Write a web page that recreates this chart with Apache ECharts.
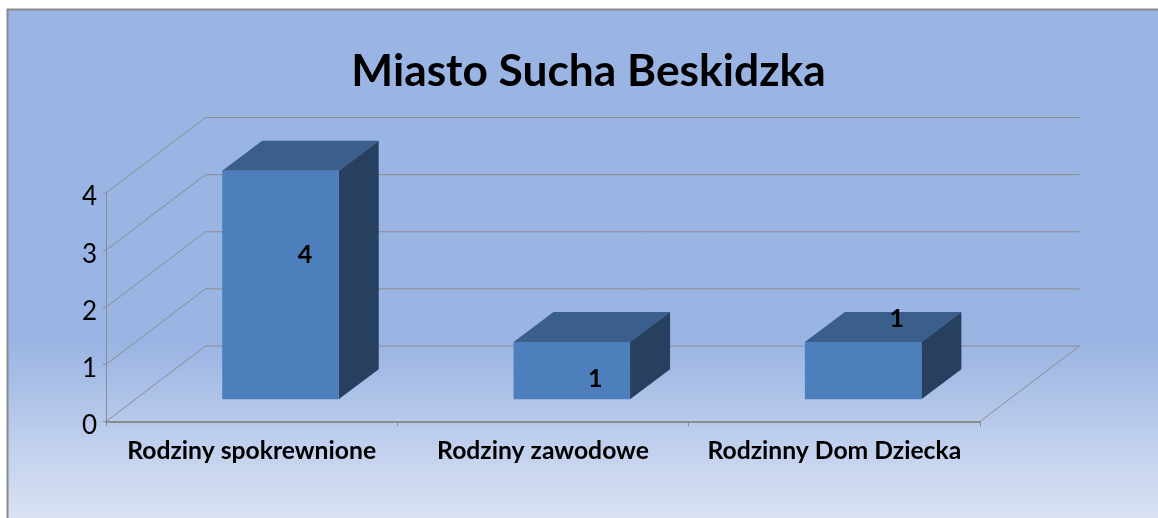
<!DOCTYPE html>
<html><head><meta charset="utf-8">
<style>html,body{margin:0;padding:0;background:#fff}#c{width:1158px;height:518px}</style>
<script src="https://cdn.jsdelivr.net/npm/echarts@6/dist/echarts.min.js"></script>
</head><body><div id="c"></div>
<script>
const titleText = 'Miasto Sucha Beskidzka';
const categories = ['Rodziny spokrewnione', 'Rodziny zawodowe', 'Rodzinny Dom Dziecka'];
const values = [4, 1, 1];
const yTicks = [0, 1, 2, 3, 4];

// styling constants
const DEPTH = [99.5, -75.5];         // floor depth
const BAR_SHIFT = [28.8, -22.3];     // bar offset into the floor
const BAR_DEPTH = [40, -30];         // bar's own depth
const BAR_W = 116.5;
const LABEL_NUDGE = [[24.5, -30], [23.5, 8], [33.5, -52]];
const FONT = 'Lato, "Noto Sans", sans-serif';
const GRID_C = '#8c8c8c';

const chart = echarts.init(document.getElementById('c'), null, {renderer: 'canvas'});
chart.setOption({
  animation: false,
  backgroundColor: '#fff',
  graphic: [{
    type: 'rect', z: -10, silent: true,
    shape: {x: 7.5, y: 9.5, width: 1160, height: 520},
    style: {
      stroke: '#8a8a8a', lineWidth: 2,
      fill: new echarts.graphic.LinearGradient(0, 0, 0, 1, [
        {offset: 0, color: '#9ab4e3'},
        {offset: 0.64, color: '#9ab4e3'},
        {offset: 1, color: '#dfe6f5'}
      ])
    }
  }],
  title: {
    text: titleText, left: 583.5, top: 45,
    textAlign: 'center',
    textStyle: {fontFamily: FONT, fontWeight: 'bold', fontSize: 44.3, color: '#000'}
  },
  grid: {left: 106, right: 178, top: 193, bottom: 96.5},
  xAxis: {
    type: 'category', data: categories, boundaryGap: true,
    axisLine: {show: true, lineStyle: {color: GRID_C, width: 2}},
    axisTick: {show: true, alignWithLabel: false, length: 5, lineStyle: {color: GRID_C, width: 1}},
    axisLabel: {fontFamily: FONT, fontWeight: 'bold', fontSize: 24.7, color: '#000', margin: 17, interval: 0}
  },
  yAxis: {
    type: 'value', min: 0, max: 4, interval: 1,
    axisLine: {show: true, lineStyle: {color: GRID_C, width: 1}},
    axisTick: {show: true, length: 3, lineStyle: {color: GRID_C, width: 1}},
    splitLine: {show: false},
    axisLabel: {fontFamily: FONT, fontSize: 26, color: '#000', margin: 9, verticalAlign: 'top', lineHeight: 8}
  },
  series: [
    {
      type: 'custom', coordinateSystem: 'cartesian2d', z: 1, silent: true,
      data: yTicks.map(v => [0, v]),
      renderItem(params, api) {
        const cs = params.coordSys;
        const y = api.coord([0, api.value(1)])[1];
        const x0 = cs.x, x1 = cs.x + cs.width;
        const points = [[x0, y], [x0 + DEPTH[0], y + DEPTH[1]], [x1 + DEPTH[0], y + DEPTH[1]]];
        if (api.value(1) === 0) points.push([x1, y]);
        return {type: 'polyline', shape: {points}, style: {stroke: GRID_C, lineWidth: 1, fill: 'none'}};
      }
    },
    {
      type: 'custom', coordinateSystem: 'cartesian2d', z: 2, silent: true,
      data: values.map((v, i) => [i, v]),
      renderItem(params, api) {
        const top = api.coord([api.value(0), api.value(1)]);
        const base = api.coord([api.value(0), 0]);
        const xl = top[0] - BAR_W / 2 + BAR_SHIFT[0], xr = xl + BAR_W;
        const yt = top[1] + BAR_SHIFT[1], yb = base[1] + BAR_SHIFT[1];
        const [dx, dy] = BAR_DEPTH;
        const nudge = LABEL_NUDGE[params.dataIndex];
        return {type: 'group', children: [
          {type: 'polygon', shape: {points: [[xl, yt], [xr, yt], [xr + dx, yt + dy], [xl + dx, yt + dy]]}, style: {fill: '#3a5f8c'}},
          {type: 'polygon', shape: {points: [[xr, yt], [xr + dx, yt + dy], [xr + dx, yb + dy], [xr, yb]]}, style: {fill: '#27405f'}},
          {type: 'rect', shape: {x: xl, y: yt, width: BAR_W, height: yb - yt}, style: {fill: '#4c7fbb'}},
          {type: 'text', z2: 5, style: {
            text: String(api.value(1)),
            x: (xl + xr) / 2 + nudge[0], y: (yt + yb) / 2 + nudge[1],
            align: 'center', verticalAlign: 'middle',
            font: 'bold 25px ' + FONT, fill: '#000'
          }}
        ]};
      }
    }
  ]
});
</script></body></html>
